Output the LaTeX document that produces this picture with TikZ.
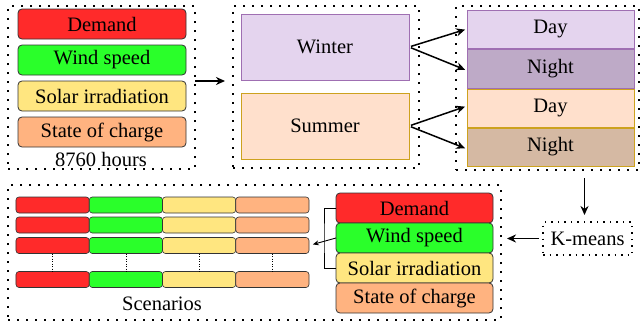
\documentclass[tikz,border=0pt]{standalone}
\usepackage{fontspec}
\setmainfont{Liberation Serif}
\newfontfamily\figfont{Liberation Serif}
\usetikzlibrary{arrows.meta}
\definecolor{cred}{HTML}{FF2A2A}
\definecolor{cgreen}{HTML}{2AFF2A}
\definecolor{cyellow}{HTML}{FFE680}
\definecolor{corange}{HTML}{FFB380}
\definecolor{wfill}{HTML}{E4D4EE}
\definecolor{wdraw}{HTML}{9F6FB2}
\definecolor{nwfill}{HTML}{BEAAC7}
\definecolor{sfill}{HTML}{FFE0CC}
\definecolor{sdraw}{HTML}{CDA21E}
\definecolor{nsfill}{HTML}{D5B9A3}
\tikzset{
  x=1pt,y=-1pt,
  every node/.style={font=\figfont\fontsize{20.5}{23}\selectfont, inner sep=0pt, outer sep=0pt},
  dotframe/.style={draw=black, line width=2pt, dash pattern=on 2pt off 7pt},
  var/.style={draw=black!80, line width=0.8pt, rounded corners=4pt},
  seg/.style={draw=black!80, line width=0.6pt, rounded corners=3pt, minimum width=73.25pt, minimum height=16pt},
  seas/.style={line width=0.8pt},
  arr/.style={line width=1.5pt, -{Stealth[length=9pt,width=8pt]}},
  thinline/.style={line width=0.9pt, draw=black},
}
\begin{document}
\begin{tikzpicture}
\useasboundingbox (0,0) rectangle (641,324);
% frame 1
\node[dotframe, minimum width=187pt, minimum height=163pt] (f1) at (101.5,87.5) {};
\node[var, fill=cred, minimum width=168pt, minimum height=30pt] (dem1) at (102,24) {Demand};
\node[var, fill=cgreen, minimum width=168pt, minimum height=30pt] (wind1) at (102,60) {Wind speed};
\node[var, fill=cyellow, minimum width=168pt, minimum height=30pt] (sol1) at (102,96) {Solar irradiation};
\node[var, fill=corange, minimum width=168pt, minimum height=30pt] (soc1) at (102,132) {State of charge};
\node (hours) at (101,159) {8760 hours};
% frame 2
\node[dotframe, minimum width=186pt, minimum height=162pt] (f2) at (326,87) {};
\node[seas, draw=wdraw, fill=wfill, minimum width=168pt, minimum height=66pt] (winter) at (325,47) {Winter};
\node[seas, draw=sdraw, fill=sfill, minimum width=168pt, minimum height=66pt] (summer) at (325,126) {Summer};
% frame 3
\node[dotframe, minimum width=183pt, minimum height=164pt] (f3) at (547.5,88) {};
\node[seas, draw=wdraw, fill=wfill, minimum width=167pt, minimum height=38pt] (day1) at (550.5,29) {Day};
\node[seas, draw=wdraw, fill=nwfill, minimum width=167pt, minimum height=39pt] (night1) at (550.5,68.5) {Night};
\node[seas, draw=sdraw, fill=sfill, minimum width=167pt, minimum height=38pt] (day2) at (550.5,108) {Day};
\node[seas, draw=sdraw, fill=nsfill, minimum width=167pt, minimum height=38pt] (night2) at (550.5,147) {Night};
% kmeans
\node[dotframe, line width=1.5pt, dash pattern=on 1.5pt off 5pt, minimum width=89pt, minimum height=33pt] (km) at (587.5,238.5) {K-means};
% frame 4
\node[dotframe, minimum width=493pt, minimum height=135pt] (f4) at (254.5,252.5) {};
\node[var, fill=cred, minimum width=157pt, minimum height=30pt] (dem2) at (414.5,208) {Demand};
\node[var, fill=cgreen, minimum width=157pt, minimum height=30pt] (wind2) at (414.5,238) {Wind speed};
\node[var, fill=cyellow, minimum width=157pt, minimum height=30pt] (sol2) at (414.5,268) {Solar irradiation};
\node[var, fill=corange, minimum width=157pt, minimum height=30pt] (soc2) at (414.5,298) {State of charge};
% scenario bars
\foreach \r/\y in {1/205,2/225,3/245.5,4/279.5}{
  \node[seg, fill=cred] (a\r) at (52.6,\y) {};
  \node[seg, fill=cgreen] (b\r) at (125.9,\y) {};
  \node[seg, fill=cyellow] (c\r) at (199.1,\y) {};
  \node[seg, fill=corange] (d\r) at (272.4,\y) {};
}
\foreach \c in {a,b,c,d}{
  \draw[line width=0.7pt, dash pattern=on 1pt off 1.5pt] (\c3.south) -- (\c4.north);
}
\node (scen) at (162,304) {Scenarios};
% arrows
\draw[arr, shorten >=8pt] (f1.east |- sol1.north) -- (f2.west |- sol1.north);
\draw[arr, shorten <=2pt, shorten >=2pt] (winter.east) -- (day1.west);
\draw[arr, shorten <=2pt, shorten >=2pt] (winter.east) -- ([yshift=-2pt]night1.west);
\draw[arr, shorten <=2pt, shorten >=2pt] (summer.east) -- ([yshift=2pt]day2.west);
\draw[arr, shorten <=2pt, shorten >=2pt] (summer.east) -- ([yshift=-2pt]night2.west);
\coordinate (kmtop) at ([xshift=-3pt]km.north);
\draw[arr, shorten <=8pt, shorten >=7pt] (kmtop |- f3.south) -- (kmtop);
\draw[arr, shorten <=4pt, shorten >=6pt] (km.west) -- (f4.east |- km.west);
% bracket
\coordinate (br) at (324,238);
\draw[thinline] (dem2.west) -| (br) |- (sol2.west);
\draw[thinline, -{Stealth[length=6pt,width=5pt]}, shorten >=4pt] (wind2.west) -- (d3.east);
\end{tikzpicture}
\end{document}
